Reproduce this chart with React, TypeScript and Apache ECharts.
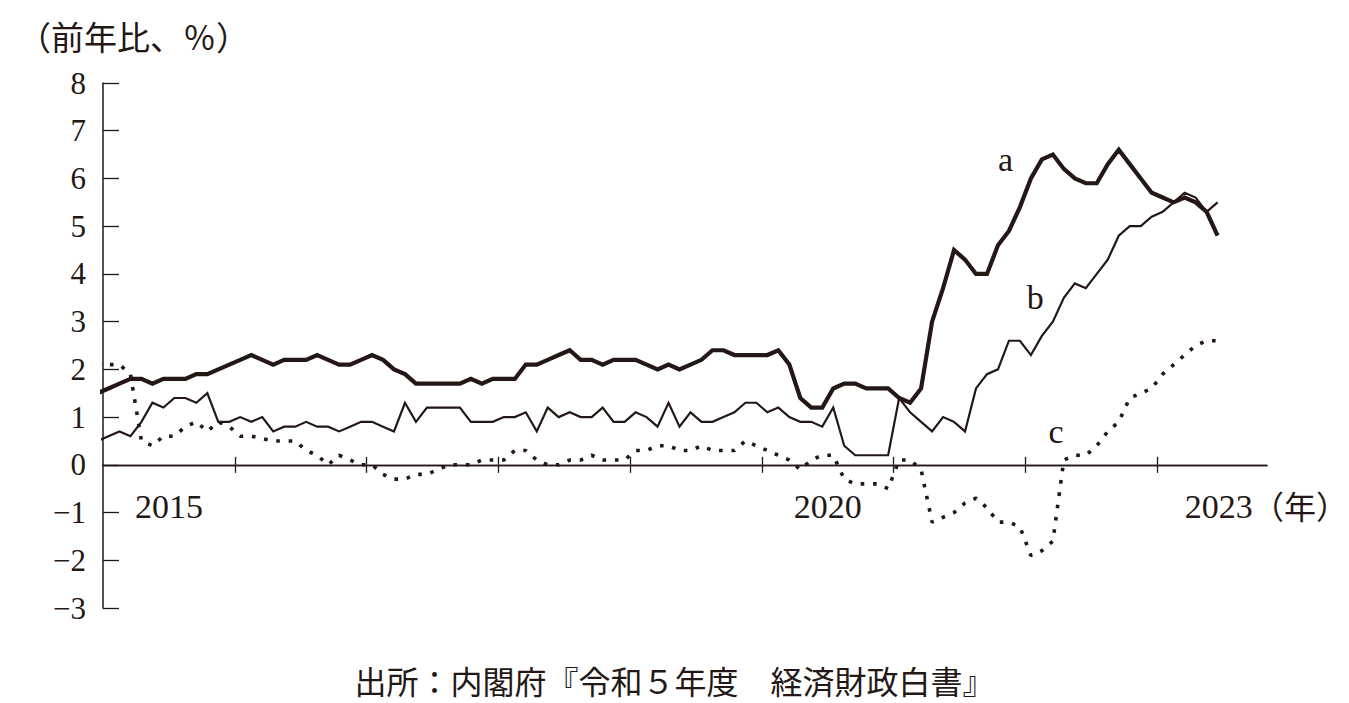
import React, { useEffect, useRef } from "react";
import * as echarts from "echarts";

// Monthly data, first value = Dec 2014, last value = Jun 2023
const firstMonthOffset = -1; // months relative to Jan 2015
const seriesA = [
  1.5, 1.6, 1.7, 1.8, 1.8, 1.7, 1.8, 1.8, 1.8, 1.9, 1.9, 2.0, 2.1,
  2.2, 2.3, 2.2, 2.1, 2.2, 2.2, 2.2, 2.3, 2.2, 2.1, 2.1, 2.2,
  2.3, 2.2, 2.0, 1.9, 1.7, 1.7, 1.7, 1.7, 1.7, 1.8, 1.7, 1.8,
  1.8, 1.8, 2.1, 2.1, 2.2, 2.3, 2.4, 2.2, 2.2, 2.1, 2.2, 2.2,
  2.2, 2.1, 2.0, 2.1, 2.0, 2.1, 2.2, 2.4, 2.4, 2.3, 2.3, 2.3,
  2.3, 2.4, 2.1, 1.4, 1.2, 1.2, 1.6, 1.7, 1.7, 1.6, 1.6, 1.6,
  1.4, 1.3, 1.6, 3.0, 3.7, 4.5, 4.3, 4.0, 4.0, 4.6, 4.9, 5.4,
  6.0, 6.4, 6.5, 6.2, 6.0, 5.9, 5.9, 6.3, 6.6, 6.3, 6.0, 5.7,
  5.6, 5.5, 5.6, 5.5, 5.3, 4.8,
];
const seriesB = [
  0.5, 0.6, 0.7, 0.6, 0.9, 1.3, 1.2, 1.4, 1.4, 1.3, 1.5, 0.9, 0.9,
  1.0, 0.9, 1.0, 0.7, 0.8, 0.8, 0.9, 0.8, 0.8, 0.7, 0.8, 0.9,
  0.9, 0.8, 0.7, 1.3, 0.9, 1.2, 1.2, 1.2, 1.2, 0.9, 0.9, 0.9,
  1.0, 1.0, 1.1, 0.7, 1.2, 1.0, 1.1, 1.0, 1.0, 1.2, 0.9, 0.9,
  1.1, 1.0, 0.8, 1.3, 0.8, 1.1, 0.9, 0.9, 1.0, 1.1, 1.3, 1.3,
  1.1, 1.2, 1.0, 0.9, 0.9, 0.8, 1.2, 0.4, 0.2, 0.2, 0.2, 0.2,
  1.4, 1.1, 0.9, 0.7, 1.0, 0.9, 0.7, 1.6, 1.9, 2.0, 2.6, 2.6,
  2.3, 2.7, 3.0, 3.5, 3.8, 3.7, 4.0, 4.3, 4.8, 5.0, 5.0, 5.2,
  5.3, 5.5, 5.7, 5.6, 5.3, 5.5,
];
const seriesC = [
  2.1, 2.1, 2.1, 1.9, 0.5, 0.4, 0.6, 0.6, 0.8, 0.9, 0.7, 0.9, 0.8,
  0.6, 0.6, 0.55, 0.5, 0.5, 0.5, 0.3, 0.2, 0.0, 0.2, 0.1, 0.0,
  0.0, -0.2, -0.3, -0.3, -0.2, -0.2, -0.1, 0.0, 0.0, 0.0, 0.1, 0.1,
  0.1, 0.3, 0.3, 0.1, 0.0, 0.0, 0.1, 0.1, 0.2, 0.1, 0.1, 0.1,
  0.3, 0.3, 0.4, 0.4, 0.3, 0.3, 0.4, 0.3, 0.3, 0.3, 0.5, 0.4,
  0.3, 0.2, 0.1, -0.1, 0.1, 0.2, 0.2, -0.3, -0.4, -0.4, -0.4, -0.5,
  0.1, 0.1, -0.1, -1.2, -1.1, -1.0, -0.8, -0.7, -0.9, -1.2, -1.2, -1.3,
  -1.9, -1.8, -1.6, 0.1, 0.2, 0.2, 0.4, 0.7, 0.9, 1.4, 1.5, 1.6,
  1.9, 2.1, 2.3, 2.5, 2.6, 2.6,
];

const yearTickMonths = [12, 24, 36, 48, 60, 72, 84, 96];
const yearLabels = ["2015", "2020", "2023"];
const yearLabelMonths = [6, 66, 101.6];
const yearLabelLevel = -0.88;
const seriesNames = ["a", "b", "c"];
const seriesLabelPos = [
  [82.2, 6.39],
  [84.9, 3.51],
  [86.8, 0.69],
];

const INK = "#231815";
const SERIF = "'Liberation Serif', 'Noto Sans CJK JP', serif";
const CJK = "'Noto Sans CJK JP', sans-serif";

const toXY = (vals: number[]) =>
  vals.map((v, k) => [firstMonthOffset + k + 0.5, v]);

const textLabel = (text: string, fontSize: number) => ({
  show: true,
  position: "inside",
  formatter: text,
  fontSize,
  fontFamily: SERIF,
  color: INK,
});

const mark = (idx: number, withYears: boolean) => {
  const data: any[] = [
    { coord: seriesLabelPos[idx], label: textLabel(seriesNames[idx], 34) },
  ];
  if (withYears) {
    yearLabels.forEach((y, k) =>
      data.push({ coord: [yearLabelMonths[k], yearLabelLevel], label: textLabel(y, 34) })
    );
  }
  return {
    symbol: "circle",
    symbolSize: 1,
    itemStyle: { color: "rgba(0,0,0,0)" },
    data,
  };
};

export default function App() {
  const ref = useRef<HTMLDivElement>(null);
  useEffect(() => {
    if (!ref.current) return;
    const chart = echarts.init(ref.current, undefined, { renderer: "svg" });
    const xBase = {
      type: "value",
      min: 0,
      max: 106,
      position: "bottom",
      splitLine: { show: false },
      axisLabel: { show: false },
    };
    chart.setOption({
      animation: false,
      backgroundColor: "#ffffff",
      grid: { left: 103, top: 83, width: 1164, height: 525, containLabel: false },
      xAxis: [
        {
          ...xBase,
          axisLine: { show: true, onZero: true, onZeroAxisIndex: 0, lineStyle: { color: INK, width: 1.3 } },
          axisTick: { show: true, customValues: yearTickMonths, length: 8, inside: false, lineStyle: { color: INK, width: 1.3 } },
        },
        {
          ...xBase,
          axisLine: { show: true, onZero: true, onZeroAxisIndex: 0, lineStyle: { color: INK, width: 1.3 } },
          axisTick: { show: true, customValues: yearTickMonths, length: 8, inside: true, lineStyle: { color: INK, width: 1.3 } },
        },
      ],
      yAxis: {
        type: "value",
        min: -3,
        max: 8,
        interval: 1,
        splitLine: { show: false },
        axisLine: { show: true, onZero: false, lineStyle: { color: INK, width: 1.5 } },
        axisTick: { show: true, inside: true, length: 16, lineStyle: { color: INK, width: 1.3 } },
        axisLabel: {
          margin: 17,
          fontSize: 31,
          fontFamily: SERIF,
          color: INK,
          formatter: (v: number) => (v < 0 ? "\u2212" + Math.abs(v) : String(v)),
        },
      },
      series: [
        {
          name: "a",
          type: "line",
          xAxisIndex: 0,
          data: toXY(seriesA),
          symbol: "none",
          lineStyle: { color: INK, width: 4.2, join: "miter" },
          markPoint: mark(0, true),
          z: 3,
        },
        {
          name: "b",
          type: "line",
          xAxisIndex: 0,
          data: toXY(seriesB),
          symbol: "none",
          lineStyle: { color: INK, width: 2.2, join: "miter" },
          markPoint: mark(1, false),
          z: 4,
        },
        {
          name: "c",
          type: "line",
          xAxisIndex: 0,
          data: toXY(seriesC),
          symbol: "none",
          lineStyle: { color: INK, width: 3.6, type: [3.6, 8.8], cap: "butt" },
          markPoint: mark(2, false),
          z: 2,
        },
      ],
      graphic: [
        {
          type: "text",
          left: 18,
          top: 19,
          style: { text: "（前年比、％）", fontSize: 33, fontFamily: CJK, fill: INK },
        },
        {
          type: "text",
          left: 1252,
          top: 489,
          style: { text: "（年）", fontSize: 32, fontFamily: CJK, fill: INK },
        },
        {
          type: "text",
          left: "center",
          top: 664,
          style: {
            text: "出所：内閣府『令和５年度　経済財政白書』",
            fontSize: 32,
            lineHeight: 32,
            fontFamily: CJK,
            fill: INK,
          },
        },
      ],
    });
    return () => chart.dispose();
  }, []);
  return (
    <div
      ref={ref}
      style={{ position: "fixed", left: 0, top: 0, width: 1349, height: 703, background: "#fff" }}
    />
  );
}
